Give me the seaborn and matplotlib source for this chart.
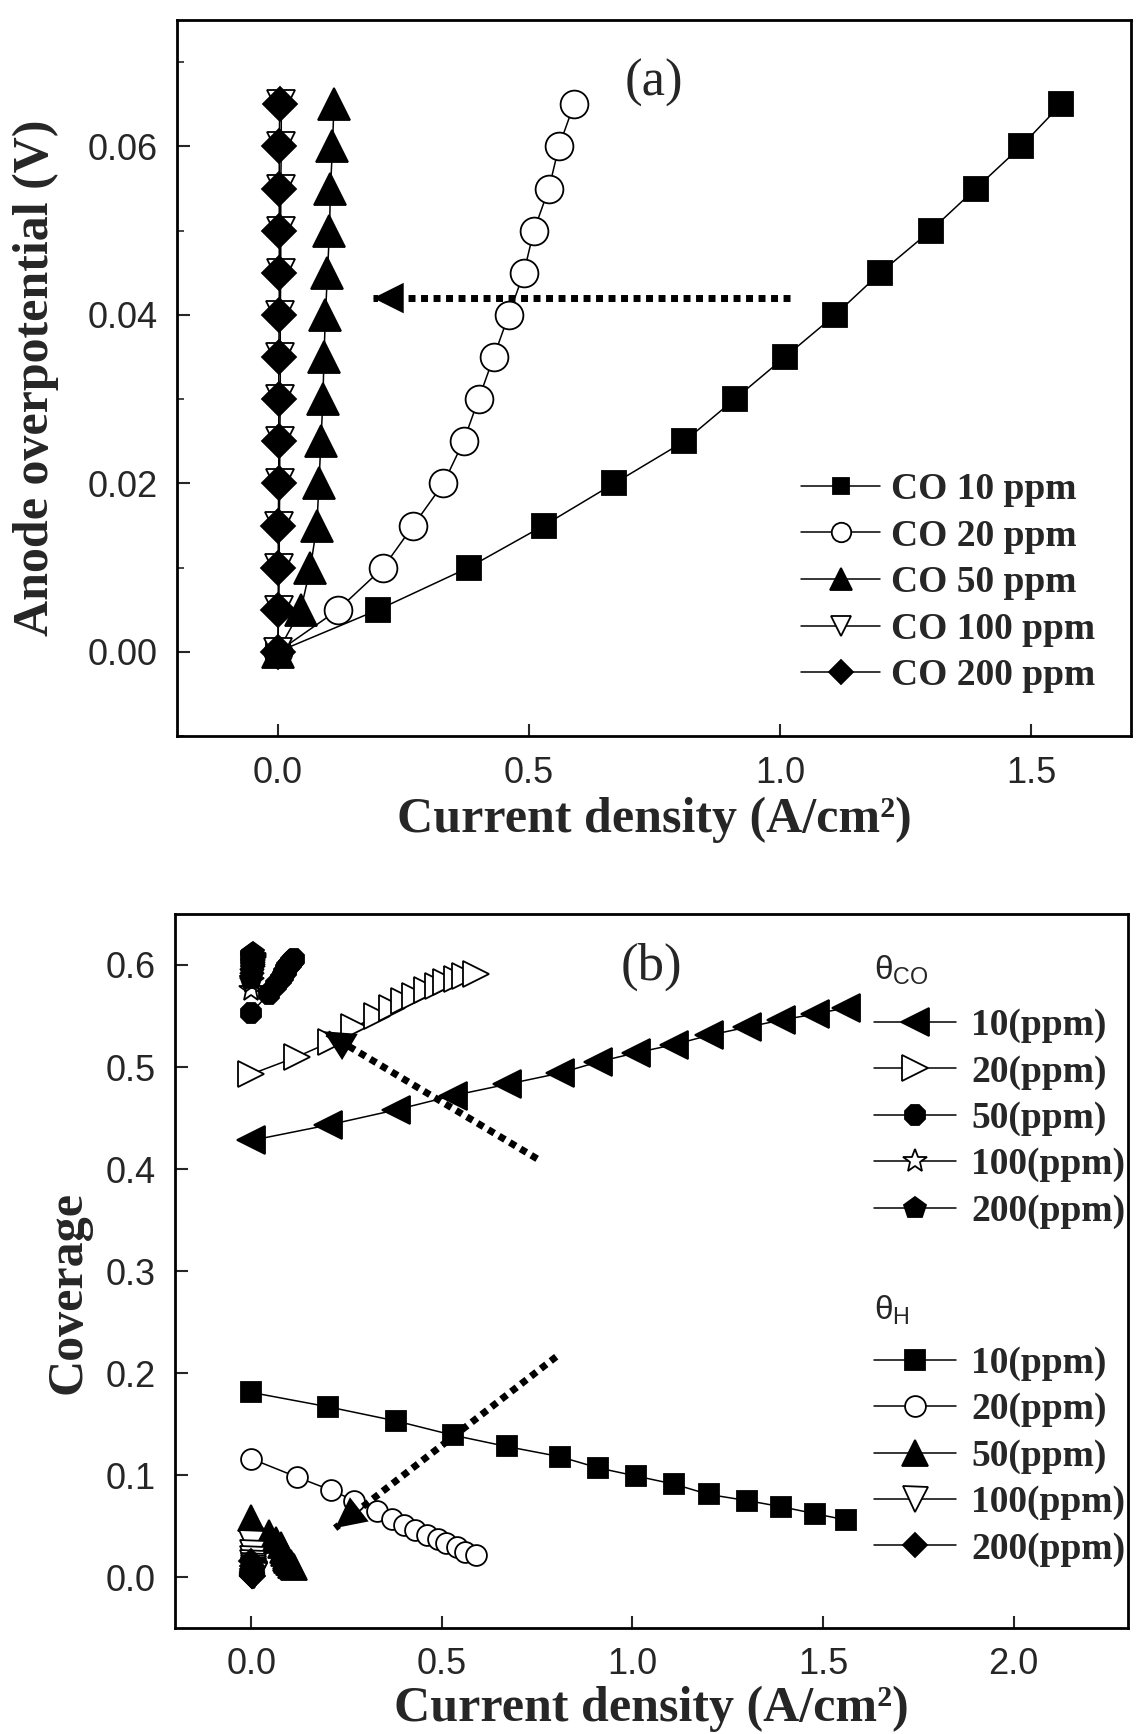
import matplotlib
matplotlib.use('Agg')
import matplotlib.pyplot as plt
import seaborn as sns
from matplotlib.ticker import MultipleLocator, FormatStrFormatter

# ---- panel (a): anode overpotential vs current density ----
ETA = [0.000, 0.005, 0.010, 0.015, 0.020, 0.025, 0.030, 0.035, 0.040, 0.045, 0.050, 0.055, 0.060, 0.065]
J_CO10 = [0.00, 0.20, 0.38, 0.53, 0.67, 0.81, 0.91, 1.01, 1.11, 1.20, 1.30, 1.39, 1.48, 1.56]
J_CO20 = [0.00, 0.12, 0.21, 0.27, 0.33, 0.37, 0.40, 0.43, 0.46, 0.49, 0.51, 0.54, 0.56, 0.59]
J_CO50 = [0.000, 0.046, 0.065, 0.078, 0.082, 0.086, 0.090, 0.092, 0.095, 0.099, 0.103, 0.105, 0.109, 0.112]
J_CO100 = [0.000, 0.002, 0.003, 0.003, 0.004, 0.004, 0.005, 0.005, 0.005, 0.006, 0.006, 0.006, 0.007, 0.007]
J_CO200 = [0.000, 0.001, 0.001, 0.001, 0.002, 0.002, 0.002, 0.002, 0.003, 0.003, 0.003, 0.003, 0.003, 0.004]
LABELS_A = ['CO 10 ppm', 'CO 20 ppm', 'CO 50 ppm', 'CO 100 ppm', 'CO 200 ppm']

# ---- panel (b): coverage vs current density ----
THETA_CO_10 = [0.428, 0.443, 0.458, 0.472, 0.483, 0.494, 0.505, 0.514, 0.522, 0.531, 0.539, 0.546, 0.552, 0.558]
THETA_CO_20 = [0.493, 0.510, 0.525, 0.539, 0.550, 0.558, 0.565, 0.570, 0.575, 0.579, 0.583, 0.586, 0.589, 0.591]
THETA_CO_50 = [0.553, 0.572, 0.580, 0.586, 0.589, 0.592, 0.594, 0.596, 0.598, 0.600, 0.602, 0.603, 0.605, 0.606]
THETA_CO_100 = [0.575, 0.583, 0.588, 0.592, 0.595, 0.597, 0.599, 0.601, 0.602, 0.604, 0.605, 0.606, 0.607, 0.608]
THETA_CO_200 = [0.586, 0.592, 0.596, 0.599, 0.601, 0.603, 0.604, 0.606, 0.607, 0.608, 0.609, 0.610, 0.611, 0.612]
THETA_H_10 = [0.181, 0.167, 0.153, 0.139, 0.128, 0.118, 0.107, 0.099, 0.091, 0.081, 0.075, 0.069, 0.062, 0.056]
THETA_H_20 = [0.116, 0.098, 0.085, 0.075, 0.065, 0.057, 0.051, 0.046, 0.041, 0.037, 0.033, 0.029, 0.025, 0.022]
THETA_H_50 = [0.058, 0.043, 0.036, 0.031, 0.027, 0.024, 0.021, 0.019, 0.017, 0.015, 0.014, 0.012, 0.011, 0.010]
THETA_H_100 = [0.033, 0.024, 0.018, 0.014, 0.011, 0.009, 0.007, 0.006, 0.005, 0.004, 0.003, 0.003, 0.002, 0.002]
THETA_H_200 = [0.016, 0.011, 0.008, 0.006, 0.005, 0.004, 0.003, 0.003, 0.002, 0.002, 0.001, 0.001, 0.001, 0.001]
LABELS_B = ['10(ppm)', '20(ppm)', '50(ppm)', '100(ppm)', '200(ppm)']

SERIF = ['Liberation Serif', 'DejaVu Serif']
SANS = ['Liberation Sans', 'DejaVu Sans']

sns.set_style('ticks')
plt.rcParams['font.family'] = SANS


def draw(ax, x, y, marker, ms, filled, mew=1.3):
    sns.lineplot(x=x, y=y, ax=ax, color='black', lw=1.1, marker=marker, markersize=ms,
                 markerfacecolor='black' if filled else 'white', markeredgecolor='black',
                 markeredgewidth=mew, estimator=None, sort=False, legend=False)
    return ax.lines[-1]


def style_axes(ax, xlim, ylim, xmaj, ymaj, yfmt, ymin=None):
    ax.set_xlim(*xlim)
    ax.set_ylim(*ylim)
    ax.xaxis.set_major_locator(MultipleLocator(xmaj))
    ax.yaxis.set_major_locator(MultipleLocator(ymaj))
    if ymin:
        ax.yaxis.set_minor_locator(MultipleLocator(ymin))
    ax.xaxis.set_major_formatter(FormatStrFormatter('%.1f'))
    ax.yaxis.set_major_formatter(FormatStrFormatter(yfmt))
    ax.tick_params(which='major', direction='in', length=9, width=1.5, labelsize=26, pad=14,
                   top=False, right=False)
    ax.tick_params(which='minor', direction='in', length=5, width=1.2, top=False, right=False)
    for sp in ax.spines.values():
        sp.set_linewidth(2)
        sp.set_color('black')


def dotted_arrow(ax, start, tip):
    # thick dotted shaft + solid filled head
    ax.plot([start[0], tip[0]], [start[1], tip[1]], color='black', lw=5,
            ls=(0, (1, 0.8)), dash_capstyle='butt')
    ax.annotate('', xy=tip, xytext=start,
                arrowprops=dict(arrowstyle='-|>,head_length=1.1,head_width=0.55',
                                lw=0, color='black', mutation_scale=20,
                                shrinkA=0, shrinkB=0))


fig = plt.figure(figsize=(11.44, 17.34), dpi=100)

# ---------------- (a) ----------------
ax1 = fig.add_axes([0.155, 0.5755, 0.834, 0.4129])
h = []
h.append(draw(ax1, J_CO10, ETA, 's', 17, True))
h.append(draw(ax1, J_CO20, ETA, 'o', 20, False))
h.append(draw(ax1, J_CO50, ETA, '^', 23, True))
h.append(draw(ax1, J_CO100, ETA, 'v', 20, False))
h.append(draw(ax1, J_CO200, ETA, 'D', 17, True))
style_axes(ax1, (-0.2, 1.7), (-0.01, 0.075), 0.5, 0.02, '%.2f', 0.01)
dotted_arrow(ax1, (1.02, 0.042), (0.19, 0.042))
ax1.text(0.75, 0.0675, '(a)', fontsize=38, family=SERIF, ha='center', va='center')
ax1.set_xlabel('Current density (A/cm²)', fontsize=36, family=SERIF, weight='bold')
ax1.set_ylabel('Anode overpotential (V)', fontsize=36, family=SERIF, weight='bold')
ax1.xaxis.set_label_coords(0.5, -0.085)
ax1.yaxis.set_label_coords(-0.124, 0.5)
ax1.legend(handles=h, labels=LABELS_A, loc='upper left', bbox_to_anchor=(0.654, 0.369),
           frameon=False, prop=dict(family=SERIF, weight='bold', size=27), markerscale=0.7,
           handlelength=2.1, handletextpad=0.3, labelspacing=0.31, borderpad=0, borderaxespad=0)

# ---------------- (b) ----------------
ax2 = fig.add_axes([0.153, 0.0611, 0.833, 0.4118])
hco = []
hco.append(draw(ax2, J_CO10, THETA_CO_10, '<', 20, True))
hco.append(draw(ax2, J_CO20, THETA_CO_20, '>', 19, False))
hco.append(draw(ax2, J_CO50, THETA_CO_50, '8', 15, True))
hco.append(draw(ax2, J_CO100, THETA_CO_100, '*', 18, False))
hco.append(draw(ax2, J_CO200, THETA_CO_200, 'p', 16, True))
hh = []
hh.append(draw(ax2, J_CO10, THETA_H_10, 's', 15, True))
hh.append(draw(ax2, J_CO20, THETA_H_20, 'o', 15, False))
hh.append(draw(ax2, J_CO50, THETA_H_50, '^', 19, True))
hh.append(draw(ax2, J_CO100, THETA_H_100, 'v', 18, False))
hh.append(draw(ax2, J_CO200, THETA_H_200, 'D', 12, True))
style_axes(ax2, (-0.2, 2.3), (-0.05, 0.65), 0.5, 0.1, '%.1f')
dotted_arrow(ax2, (0.75, 0.41), (0.19, 0.535))
dotted_arrow(ax2, (0.80, 0.216), (0.22, 0.048))
ax2.text(1.05, 0.598, '(b)', fontsize=38, family=SERIF, ha='center', va='center')
ax2.set_xlabel('Current density (A/cm²)', fontsize=36, family=SERIF, weight='bold')
ax2.set_ylabel('Coverage', fontsize=36, family=SERIF, weight='bold')
ax2.xaxis.set_label_coords(0.5, -0.08)
ax2.yaxis.set_label_coords(-0.088, 0.47)

# group headers of the two legends
ax2.text(0.733, 0.922, 'θ$_{\\mathregular{CO}}$', transform=ax2.transAxes, fontsize=24,
         family=SANS, ha='left', va='center')
ax2.text(0.733, 0.445, 'θ$_{\\mathregular{H}}$', transform=ax2.transAxes, fontsize=24,
         family=SANS, ha='left', va='center')

leg_kw = dict(loc='upper left', frameon=False,
              prop=dict(family=SERIF, weight='bold', size=27),
              handlelength=2.2, handletextpad=0.4, labelspacing=0.3, borderpad=0, borderaxespad=0)
leg1 = ax2.legend(handles=hco, labels=LABELS_B, bbox_to_anchor=(0.733, 0.868), **leg_kw)
ax2.add_artist(leg1)
ax2.legend(handles=hh, labels=LABELS_B, bbox_to_anchor=(0.733, 0.395), **leg_kw)

fig.savefig('out.png', dpi=100)
